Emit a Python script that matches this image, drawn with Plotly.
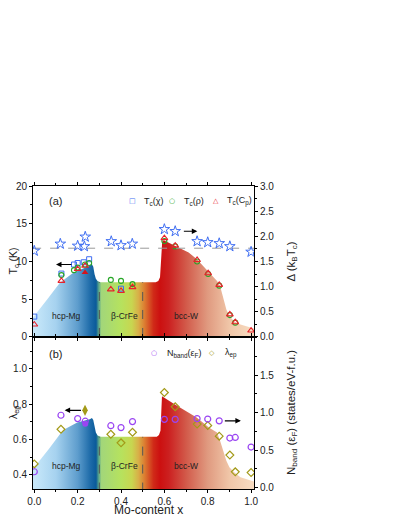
import plotly.graph_objects as go
from plotly.subplots import make_subplots

# guide-to-the-eye outlines of the phase diagram
guide_x_a = [-0.01, 0.0, 0.06, 0.118, 0.18, 0.22, 0.256, 0.264, 0.272, 0.278, 0.284, 0.292, 0.305,
             0.56, 0.572, 0.58, 0.585, 0.59, 0.597, 0.647, 0.712, 0.75, 0.8, 0.843, 0.857, 0.872,
             0.886, 0.9, 0.922, 0.951, 1.015]
guide_tc = [2.45, 2.8, 5.0, 7.2, 8.5, 9.0, 9.45, 9.75, 9.3, 8.3, 7.7, 7.4, 7.25,
            7.25, 7.4, 7.9, 10.5, 12.6, 12.8, 12.1, 11.2, 10.3, 8.8, 7.4, 6.76, 5.2,
            3.65, 2.76, 2.09, 1.65, 1.1]

guide_x_b = [-0.01, 0.0, 0.067, 0.118, 0.14, 0.198, 0.256, 0.266, 0.272, 0.278, 0.284, 0.292, 0.307,
             0.565, 0.575, 0.582, 0.586, 0.589, 0.647, 0.712, 0.749, 0.807, 0.843, 0.857, 0.872,
             0.886, 0.9, 0.922, 0.951, 1.015]
guide_lam = [0.425, 0.443, 0.546, 0.63, 0.658, 0.696, 0.715, 0.722, 0.71, 0.667, 0.64, 0.622, 0.615,
             0.615, 0.625, 0.649, 0.817, 0.845, 0.80, 0.752, 0.724, 0.667, 0.639, 0.593, 0.537,
             0.48, 0.443, 0.415, 0.387, 0.362]

phase_bounds = [0.3, 0.5]
flat_tc = 7.25
flat_lam = 0.615
bcs_gap = 1.764

phase_names = ["hcp-Mg", "β-CrFe", "bcc-W"]
phase_x = [0.15, 0.415, 0.70]

# (a) superconducting transition temperatures
chi_x = [0.0, 0.125, 0.183, 0.2, 0.228, 0.253, 0.4]
chi_tc = [2.7, 8.4, 9.6, 9.8, 9.9, 10.3, 6.4]

rho_x = [0.125, 0.183, 0.2, 0.234, 0.253, 0.353, 0.4, 0.453, 0.6, 0.65, 0.751, 0.802, 0.853, 0.902, 0.927]
rho_tc = [8.2, 8.85, 9.2, 9.6, 9.8, 7.56, 7.43, 7.0, 12.7, 12.0, 10.0, 8.35, 6.8, 2.9, 1.9]

cp_x = [0.0, 0.125, 0.2, 0.234, 0.353, 0.4, 0.453, 0.6, 0.65, 0.751, 0.802, 0.853, 0.902, 0.927, 1.0]
cp_tc = [1.65, 7.43, 9.0, 9.43, 6.3, 6.1, 6.6, 13.1, 12.1, 10.2, 8.45, 6.9, 3.0, 1.96, 0.85]

cp_lit_x = [0.234]
cp_lit_tc = [8.55]

gap_x = [0.0, 0.12, 0.2, 0.231, 0.235, 0.355, 0.4, 0.452, 0.6, 0.65, 0.751, 0.80, 0.853, 0.902, 1.0]
gap = [1.71, 1.85, 1.81, 1.80, 1.99, 1.90, 1.82, 1.85, 2.14, 2.10, 1.90, 1.88, 1.86, 1.80, 1.69]

# (b) density of states and coupling constant
nb_x = [0.0, 0.123, 0.2, 0.235, 0.353, 0.4, 0.453, 0.6, 0.65, 0.751, 0.80, 0.853, 0.902, 0.927, 1.0]
nband = [0.21, 0.965, 0.92, 0.885, 0.825, 0.80, 0.88, 0.91, 0.91, 0.92, 0.914, 0.89, 0.66, 0.668, 0.54]
nb_lit_x = [0.235]
nband_lit = [0.85]

lam_x = [0.0, 0.123, 0.353, 0.4, 0.453, 0.6, 0.65, 0.751, 0.80, 0.853, 0.902, 0.927, 1.0]
lam_ep = [0.462, 0.658, 0.63, 0.581, 0.641, 0.866, 0.785, 0.687, 0.679, 0.619, 0.512, 0.417, 0.413]
lam_lit_x = [0.234]
lam_lit = [0.765]

BLUE = "#3f6ef2"
GREEN = "#26a626"
RED = "#e8222a"
PURPLE = "#9a45f2"
OLIVE = "#a39a18"
FONT = "Arial, Liberation Sans, sans-serif"

phase_scale = [
    [0.0, "#c8e8fa"], [0.1, "#a6d2ef"], [0.2, "#5e9dcd"], [0.26, "#1c6aa8"],
    [0.285, "#0a5a9a"], [0.297, "#5aa58a"], [0.31, "#a2d67a"], [0.4, "#b6e25e"],
    [0.45, "#c8d650"], [0.48, "#d8b048"], [0.51, "#dc7a30"], [0.55, "#d02a18"],
    [0.58, "#cc1010"], [0.62, "#cc2020"], [0.7, "#d25a4a"], [0.8, "#e09a80"],
    [0.9, "#f0c6a8"], [1.0, "#f7dabf"],
]

fig = make_subplots(rows=2, cols=1, shared_xaxes=True, vertical_spacing=0,
                    specs=[[{"secondary_y": True}], [{"secondary_y": True}]])

# shaded phase regions
fig.add_trace(go.Scatter(x=guide_x_a, y=guide_tc, mode="lines", line=dict(width=0),
                         fill="tozeroy", fillgradient=dict(type="horizontal", colorscale=phase_scale,
                                                           start=0, stop=1),
                         hoverinfo="skip", showlegend=False), row=1, col=1)
fig.add_trace(go.Scatter(x=guide_x_b, y=guide_lam, mode="lines", line=dict(width=0),
                         fill="tozeroy", fillgradient=dict(type="horizontal", colorscale=phase_scale,
                                                           start=0, stop=1),
                         hoverinfo="skip", showlegend=False), row=2, col=1)

for xb in phase_bounds:
    fig.add_trace(go.Scatter(x=[xb, xb], y=[0, flat_tc], mode="lines",
                             line=dict(color="#555555", width=1, dash="dash"),
                             showlegend=False, hoverinfo="skip"), row=1, col=1)
    fig.add_trace(go.Scatter(x=[xb, xb], y=[0, flat_lam], mode="lines",
                             line=dict(color="#555555", width=1, dash="dash"),
                             showlegend=False, hoverinfo="skip"), row=2, col=1)

# BCS weak-coupling gap
fig.add_trace(go.Scatter(x=[-0.01, 1.02], y=[bcs_gap, bcs_gap], mode="lines",
                         line=dict(color="#999999", width=1, dash="dash"),
                         showlegend=False, hoverinfo="skip"), row=1, col=1, secondary_y=True)

# markers, panel (a)
fig.add_trace(go.Scatter(x=gap_x, y=gap, mode="markers",
                         marker=dict(symbol="star-open", size=8, color=BLUE, line=dict(width=1)),
                         showlegend=False), row=1, col=1, secondary_y=True)
fig.add_trace(go.Scatter(x=chi_x, y=chi_tc, mode="markers",
                         marker=dict(symbol="square-open", size=5, color=BLUE, line=dict(width=1)),
                         showlegend=False), row=1, col=1)
fig.add_trace(go.Scatter(x=rho_x, y=rho_tc, mode="markers",
                         marker=dict(symbol="circle-open", size=5, color=GREEN, line=dict(width=1.1)),
                         showlegend=False), row=1, col=1)
fig.add_trace(go.Scatter(x=cp_x, y=cp_tc, mode="markers",
                         marker=dict(symbol="triangle-up-open", size=6, color=RED, line=dict(width=1.1)),
                         showlegend=False), row=1, col=1)
fig.add_trace(go.Scatter(x=cp_lit_x, y=cp_lit_tc, mode="markers",
                         marker=dict(symbol="triangle-up", size=6, color="#d4141c"),
                         showlegend=False), row=1, col=1)

# markers, panel (b)
fig.add_trace(go.Scatter(x=nb_x, y=nband, mode="markers",
                         marker=dict(symbol="circle-open", size=6, color=PURPLE, line=dict(width=1.2)),
                         showlegend=False), row=2, col=1, secondary_y=True)
fig.add_trace(go.Scatter(x=nb_lit_x, y=nband_lit, mode="markers",
                         marker=dict(symbol="circle", size=6, color=PURPLE),
                         showlegend=False), row=2, col=1, secondary_y=True)
fig.add_trace(go.Scatter(x=lam_x, y=lam_ep, mode="markers",
                         marker=dict(symbol="diamond-open", size=6, color=OLIVE, line=dict(width=1.2)),
                         showlegend=False), row=2, col=1)
fig.add_trace(go.Scatter(x=lam_lit_x, y=lam_lit, mode="markers",
                         marker=dict(symbol="diamond-tall", size=8, color=OLIVE),
                         showlegend=False), row=2, col=1)

split = 0.5017

ann = []
# phase labels
for name, px in zip(phase_names, phase_x):
    ann.append(dict(x=px, y=2.8, xref="x", yref="y", text=name, showarrow=False,
                    font=dict(size=8.5, color="#222222")))
    ann.append(dict(x=px, y=0.448, xref="x2", yref="y3", text=name, showarrow=False,
                    font=dict(size=8.5, color="#222222")))

# panel labels
ann.append(dict(x=0.096, y=18.0, xref="x", yref="y", text="(a)", showarrow=False, font=dict(size=11)))
ann.append(dict(x=0.1, y=1.083, xref="x2", yref="y3", text="(b)", showarrow=False, font=dict(size=11)))

# arrows pointing to the relevant axes
arrow = dict(showarrow=True, arrowhead=2, arrowsize=1, arrowwidth=1.1, arrowcolor="black", text="")
ann.append(dict(arrow, x=0.1, y=9.6, ax=0.178, ay=9.6, xref="x", yref="y", axref="x", ayref="y"))
ann.append(dict(arrow, x=0.752, y=2.1, ax=0.683, ay=2.1, xref="x", yref="y2", axref="x", ayref="y2"))
ann.append(dict(arrow, x=0.14, y=0.765, ax=0.222, ay=0.765, xref="x2", yref="y3", axref="x2", ayref="y3"))
ann.append(dict(arrow, x=0.953, y=0.89, ax=0.872, ay=0.89, xref="x2", yref="y4", axref="x2", ayref="y4"))

# axis titles
title_style = dict(xref="paper", yref="paper", showarrow=False, xanchor="center", yanchor="middle")
ann.append(dict(title_style, x=0.49, y=0, yshift=-21, text="Mo-content x", font=dict(size=12)))
ann.append(dict(title_style, x=0, y=(1 + split) / 2, xshift=-19, textangle=-90,
                text="T<sub>c</sub> (K)", font=dict(size=10.5)))
ann.append(dict(title_style, x=0, y=split / 2, xshift=-19, textangle=-90,
                text="λ<sub>ep</sub>", font=dict(size=10.5)))
ann.append(dict(title_style, x=1, y=(1 + split) / 2, xshift=24, textangle=-90,
                text="Δ (k<sub>B</sub>T<sub>c</sub>)", font=dict(size=11.5)))
ann.append(dict(title_style, x=1, y=split / 2, xshift=24, textangle=-90,
                text="N<sub>band</sub> (ε<sub>F</sub>) (states/eV-f.u.)", font=dict(size=11.5)))


# legends
def legend_item(xs, xt, y, xref, yref, glyph, color, label):
    ann.append(dict(x=xs, y=y, xref=xref, yref=yref, showarrow=False,
                    text=glyph, font=dict(size=7, color=color, family="DejaVu Sans")))
    ann.append(dict(x=xt, y=y, xref=xref, yref=yref, showarrow=False, xanchor="left",
                    text=label, font=dict(size=9, color="#222222")))


legend_item(0.451, 0.497, 18.0, "x", "y", "□", BLUE, "T<sub>c</sub>(χ)")
legend_item(0.633, 0.682, 18.0, "x", "y", "○", GREEN, "T<sub>c</sub>(ρ)")
legend_item(0.836, 0.880, 18.0, "x", "y", "△", RED, "T<sub>c</sub>(C<sub>p</sub>)")
legend_item(0.553, 0.603, 1.089, "x2", "y3", "○", PURPLE, "N<sub>band</sub>(ε<sub>F</sub>)")
legend_item(0.821, 0.872, 1.089, "x2", "y3", "◇", OLIVE, "λ<sub>ep</sub>")

axis_common = dict(showline=True, linecolor="black", linewidth=1, ticks="outside", ticklen=3,
                   tickcolor="black", showgrid=False, zeroline=False, automargin=False,
                   tickfont=dict(size=10, color="#222222"))

# the page body adds 8px around the figure, so the figure itself is 8px smaller
fig.update_layout(
    width=391, height=508,
    margin=dict(l=25, r=131, t=178, b=27),
    paper_bgcolor="white", plot_bgcolor="white",
    font=dict(family=FONT, color="#222222"),
    showlegend=False,
    annotations=ann,
    xaxis=dict(axis_common, range=[-0.006, 1.013], dtick=0.2, showticklabels=False, mirror="ticks",
               minor=dict(dtick=0.1, ticks="outside", ticklen=2, tickcolor="black")),
    xaxis2=dict(axis_common, range=[-0.006, 1.013], dtick=0.2, tickformat=".1f", mirror="ticks",
                minor=dict(dtick=0.1, ticks="outside", ticklen=2, tickcolor="black")),
    yaxis=dict(axis_common, domain=[split, 1], range=[0, 20], dtick=5,
               minor=dict(dtick=2.5, ticks="outside", ticklen=2, tickcolor="black")),
    yaxis2=dict(axis_common, domain=[split, 1], range=[0, 3], dtick=0.5, tickformat=".1f",
                minor=dict(dtick=0.25, ticks="outside", ticklen=2, tickcolor="black")),
    yaxis3=dict(axis_common, domain=[0, split], range=[0.32, 1.18], tickvals=[0.4, 0.6, 0.8, 1.0],
                tickformat=".1f",
                minor=dict(dtick=0.1, ticks="outside", ticklen=2, tickcolor="black")),
    yaxis4=dict(axis_common, domain=[0, split], range=[-0.02, 2.01], tickvals=[0, 0.5, 1.0, 1.5],
                tickformat=".1f",
                minor=dict(dtick=0.25, ticks="outside", ticklen=2, tickcolor="black")),
)

fig.write_html("out.html")
